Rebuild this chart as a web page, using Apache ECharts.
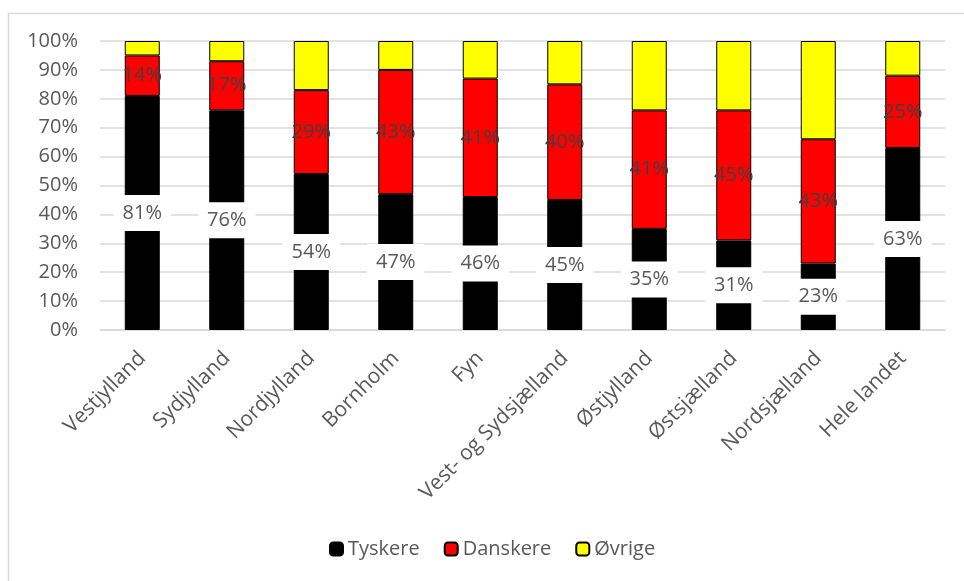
<!DOCTYPE html>
<html>
<head>
<meta charset="utf-8">
<script src="https://cdn.jsdelivr.net/npm/echarts@6/dist/echarts.min.js"></script>
<style>
html,body{margin:0;padding:0;background:#fff;}
#chart{width:964px;height:581px;}
</style>
</head>
<body>
<div id="chart"></div>
<script>
const categories = ['Vestjylland','Sydjylland','Nordjylland','Bornholm','Fyn','Vest- og Sydsjælland','Østjylland','Østsjælland','Nordsjælland','Hele landet'];
const tyskere  = [81, 76, 54, 47, 46, 45, 35, 31, 23, 63];
const danskere = [14, 17, 29, 43, 41, 40, 41, 45, 43, 25];
const ovrige   = [5, 7, 17, 10, 13, 15, 24, 24, 34, 12];
const yTicks = [0,10,20,30,40,50,60,70,80,90,100];

const FONT = 'Open Sans';
const FS = 20;
const chart = echarts.init(document.getElementById('chart'));
chart.setOption({
  animation: false,
  textStyle: { fontFamily: FONT },
  graphic: [{
    type: 'rect', silent: true, z: -10,
    shape: { x: 8.5, y: 13.5, width: 1200, height: 1200 },
    style: { fill: '#fff', stroke: '#d9d9d9', lineWidth: 1.5 }
  }],
  grid: { left: 100, right: 19, top: 41, bottom: 251, containLabel: false },
  legend: {
    left: 329, top: 539, padding: 0,
    itemWidth: 13, itemHeight: 13, itemGap: 24,
    textStyle: { fontFamily: FONT, fontSize: FS, color: '#595959' },
    data: ['Tyskere', 'Danskere', 'Øvrige']
  },
  xAxis: {
    type: 'category', data: categories,
    axisLine: { lineStyle: { color: '#d9d9d9', width: 1.5 } },
    axisTick: { show: false },
    axisLabel: { rotate: 45, interval: 0, margin: 25, fontFamily: FONT, fontSize: 21, color: '#595959' }
  },
  yAxis: {
    type: 'value', min: 0, max: 100, interval: 10,
    axisLine: { show: false }, axisTick: { show: false },
    splitLine: { lineStyle: { color: '#d9d9d9', width: 1.5 } },
    axisLabel: {
      margin: 22, fontFamily: FONT, fontSize: FS, color: '#595959',
      formatter: v => yTicks.includes(v) ? v + '%' : ''
    }
  },
  series: [
    {
      name: 'Tyskere', type: 'bar', stack: 'a', data: tyskere, barWidth: 35,
      itemStyle: { color: '#000000', borderColor: '#000', borderWidth: 1 },
      label: {
        show: true, position: 'inside', formatter: '{c}%',
        fontFamily: FONT, fontSize: FS, color: '#595959',
        backgroundColor: '#ffffff', padding: [8, 9]
      }
    },
    {
      name: 'Danskere', type: 'bar', stack: 'a', data: danskere, barWidth: 35,
      itemStyle: { color: '#ff0000', borderColor: '#000', borderWidth: 1 },
      label: {
        show: true, position: 'inside', formatter: '{c}%',
        fontFamily: FONT, fontSize: FS, color: '#404040'
      }
    },
    {
      name: 'Øvrige', type: 'bar', stack: 'a', data: ovrige, barWidth: 35,
      itemStyle: { color: '#ffff00', borderColor: '#000', borderWidth: 1 }
    }
  ]
});
</script>
</body>
</html>
